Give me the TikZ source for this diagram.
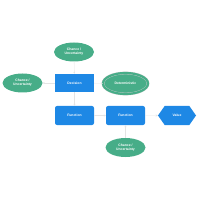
\documentclass[tikz,border=0pt]{standalone}
\usepackage{fontspec}
\setmainfont{Liberation Sans}
\usetikzlibrary{shapes.geometric,shapes.symbols,arrows.meta}
\definecolor{nblue}{HTML}{1E88E5}
\definecolor{ngreen}{HTML}{47AD88}
\definecolor{lnk}{HTML}{E4E4E4}
\tikzset{
  x=1pt,y=-1pt,
  lbl/.style={text=white,font=\fontsize{3.4}{4}\selectfont\bfseries,align=center,inner sep=0pt},
  chance/.style={lbl,ellipse,fill=ngreen,minimum width=40pt,minimum height=19pt},
  determ/.style={lbl,ellipse,fill=ngreen,minimum width=45pt,minimum height=21pt,double=ngreen,draw=black!20,double distance=2.2pt,line width=0.3pt},
  decis/.style={lbl,rectangle,fill=nblue,minimum width=39pt,minimum height=18pt},
  func/.style={lbl,rectangle,rounded corners=2pt,fill=nblue,minimum width=39pt,minimum height=19pt},
  valnode/.style={lbl,signal,signal to=east and west,signal pointer angle=110,fill=nblue,minimum width=38pt,minimum height=19pt},
  conn/.style={draw=lnk,line width=0.4pt,-{Stealth[length=2pt,width=2pt]}}
}
\begin{document}
\begin{tikzpicture}
\useasboundingbox (0,0) rectangle (200,200);
\node[chance] (c1) at (74,52) {Chance /\\Uncertainty};
\node[chance] (c2) at (22.5,83) {Chance /\\Uncertainty};
\node[decis] (d) at (74.5,83) {Decision};
\node[determ] (det) at (125.5,83.5) {Deterministic};
\node[func] (f1) at (74.5,115.5) {Function};
\node[func] (f2) at (125.5,115.5) {Function};
\node[valnode] (v) at (177,115.5) {Value};
\node[chance] (c3) at (125.5,147.5) {Chance /\\Uncertainty};
\draw[conn] (c1) -- (d);
\draw[conn] (d) -- (c2);
\draw[conn] (d) -- (det);
\draw[conn] (d) -- (f1);
\draw[conn] (f1) -- (f2);
\draw[conn] (f2) -- (v);
\draw[conn] (c3) -- (f2);
\end{tikzpicture}
\end{document}
